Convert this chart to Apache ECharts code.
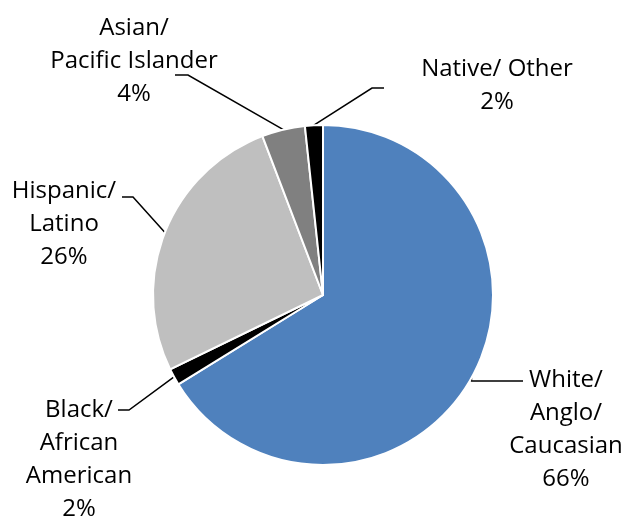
<!DOCTYPE html>
<html>
<head>
<meta charset="utf-8">
<script src="https://cdn.jsdelivr.net/npm/echarts@6/dist/echarts.min.js"></script>
<style>
  html, body { margin: 0; padding: 0; background: #fff; }
  #chart { width: 625px; height: 521px; }
</style>
</head>
<body>
<div id="chart"></div>
<script>
  // 数据
  var categories = ['White/\nAnglo/\nCaucasian', 'Black/\nAfrican\nAmerican', 'Hispanic/\nLatino', 'Asian/\nPacific Islander', 'Native/ Other'];
  var shares = [66.2, 1.6, 26.4, 4.1, 1.7];
  var sliceColors = ['#4F81BD', '#000000', '#BFBFBF', '#808080', '#000000'];

  // label placement: block centre x, block top y, leader elbow, leader end
  var labelPos = [
    {x: 566, y: 364, elbow: [470, 381], end: [523, 381]},
    {x: 79, y: 394, elbow: [129, 410], end: [118, 410]},
    {x: 64, y: 175, elbow: [133, 197], end: [122, 197]},
    {x: 134, y: 12, elbow: [188, 75], end: [175, 75]},
    {x: 497, y: 53, elbow: [372, 88], end: [384, 88]}
  ];

  var chart = echarts.init(document.getElementById('chart'));

  var pieData = categories.map(function (name, i) {
    return {name: name, value: shares[i], itemStyle: {color: sliceColors[i]}};
  });

  chart.setOption({
    animation: false,
    series: [{
      type: 'pie',
      center: [323, 295],
      radius: 170,
      startAngle: 90,
      clockwise: true,
      data: pieData,
      itemStyle: {borderColor: '#ffffff', borderWidth: 2},
      label: {
        show: true,
        position: 'outside',
        fontFamily: 'Open Sans',
        fontSize: 24,
        lineHeight: 33,
        color: '#000',
        overflow: 'none',
        formatter: function (p) {
          return p.name + '\n' + Math.round(p.value) + '%';
        }
      },
      labelLine: {
        show: true,
        lineStyle: {color: '#000', width: 1.5}
      },
      labelLayout: function (params) {
        var pos = labelPos[params.dataIndex];
        var pts = params.labelLinePoints;
        var start = pts ? pts[0] : pos.elbow;
        // first leg of White is horizontal from the edge
        var elbow = params.dataIndex === 0 ? [start[0], pos.end[1]] : pos.elbow;
        return {
          x: pos.x,
          y: pos.y,
          align: 'center',
          verticalAlign: 'top',
          labelLinePoints: [start, elbow, pos.end]
        };
      }
    }]
  });
</script>
</body>
</html>
